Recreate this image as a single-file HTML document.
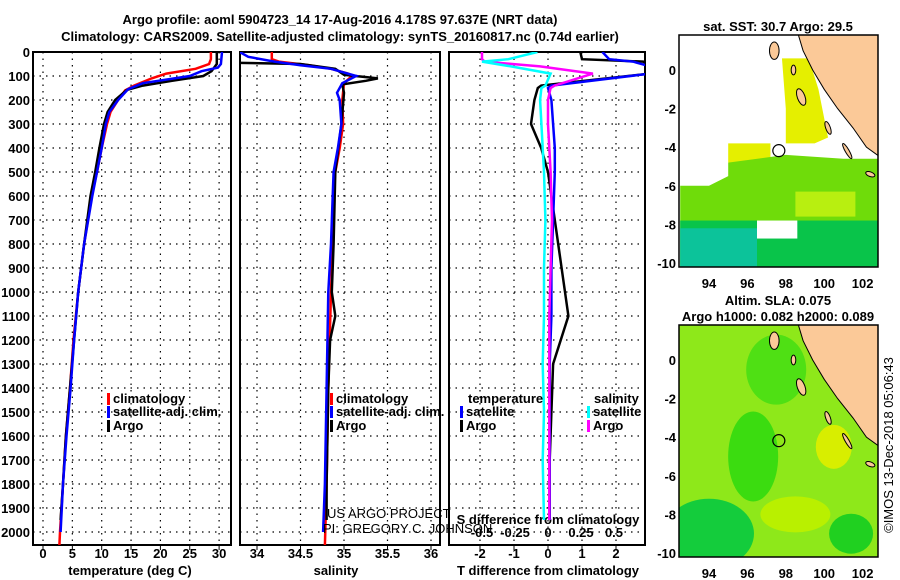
<!DOCTYPE html>
<html><head><meta charset="utf-8"><style>
body{margin:0;background:#fff}
svg{display:block;font-family:"Liberation Sans",sans-serif}
text{font-weight:bold;font-size:13px;fill:#000}
</style></head><body>
<svg id="c" width="900" height="580" viewBox="0 0 900 580">
<text x="340" y="24" text-anchor="middle" font-size="14">Argo profile: aoml 5904723_14 17-Aug-2016 4.178S 97.637E (NRT data)</text>
<text x="340" y="41" text-anchor="middle" font-size="14">Climatology: CARS2009. Satellite-adjusted climatology: synTS_20160817.nc (0.74d earlier)</text>
<g id="g"></g>
</svg>
<script>
const NS="http://www.w3.org/2000/svg";
const G=document.getElementById('g');
function el(t,a,p){const e=document.createElementNS(NS,t);for(const k in a)e.setAttribute(k,a[k]);(p||G).appendChild(e);return e;}
// ---- data ----
const tDepthClim=[0,30,50,70,90,110,140,160,200,250,300,400,500,600,800,1000,1200,1400,1600,1800,2000,2055];
const tClim=[28.6,28.6,28.3,26,21,18.5,15.5,14,12.8,11.5,10.9,10,9.2,8.3,7,6,5.2,4.6,3.9,3.4,2.9,2.8];
const tDepthSat=[0,50,65,80,100,130,155,200,250,300,400,500,600,800,1000,1200,1400,1600,1800,1950,2000];
const tSat=[30.5,30.3,29.8,27,25,17,14.5,12.8,11.3,10.7,10,9.2,8.4,7,6,5.3,4.7,4.0,3.4,3.1,3.0];
const tDepthArgo=[0,50,80,100,120,140,158,200,250,300,400,500,600,800,1000,1200,1400,1600,1800,1950];
const tArgo=[29.6,29.6,28.7,27.3,22,17,14.3,12.3,11,10.4,9.6,8.9,8.1,7,6,5.3,4.6,3.9,3.4,3.0];
const sDepthClim=[0,30,40,55,70,90,100,130,200,300,400,500,600,800,1000,1400,1800,2055];
const sClim=[34.17,34.17,34.25,34.6,34.85,35.05,35.09,35.0,34.98,34.99,34.95,34.9,34.88,34.87,34.85,34.82,34.8,34.78];
const sDepthSat=[0,20,40,55,70,100,130,170,200,300,400,500,600,800,1000,1400,1800,2000];
const sSat=[33.8,33.9,34.2,34.5,34.85,35.14,34.98,34.92,34.95,34.97,34.93,34.88,34.87,34.85,34.82,34.8,34.78,34.76];
const sDepthArgo=[0,45,50,70,95,110,120,135,170,300,500,800,1000,1100,1200,1400,1800,1950];
const sArgo=[33.75,33.75,34.5,34.9,35.0,35.39,35.25,34.98,35.0,34.97,34.9,34.88,34.86,34.9,34.84,34.82,34.8,34.8];
const dDepth=[0,30,40,60,90,140,150,200,300,400,500,700,900,1100,1300,1500,1700,1950];
const dTArgo=[0.95,1.0,2.8,3,3,-0.2,-0.3,-0.4,-0.5,-0.2,0,0.2,0.4,0.6,0.15,0.1,0.05,0.05];
const dTSat=[1.6,1.8,2.5,3,3,0.1,0.0,0.1,0.15,0.2,0.2,0.15,0.1,0.1,0.05,0.05,0.05,0.05];
const dSSat=[-0.08,-0.3,-0.5,-0.28,0.02,-0.02,-0.05,-0.06,-0.05,-0.04,-0.03,-0.02,-0.03,-0.03,-0.04,-0.03,-0.04,-0.03];
const dSArgo=[-0.5,-0.5,-0.48,-0.06,0.34,0.05,0.02,0.0,0.0,0.01,0.02,0.03,0.02,0.01,0.01,0.01,0.01,0.01];
const depthTicks=[0,100,200,300,400,500,600,700,800,900,1000,1100,1200,1300,1400,1500,1600,1700,1800,1900,2000];
const tTicks=[0,5,10,15,20,25,30];
const sTicks=[34,34.5,35,35.5,36];
const dTTicks=[-2,-1,0,1,2];
const dSTicks=["-0.5","-0.25","0","0.25","0.5"];
const lonTicks=[94,96,98,100,102];
const latTicks=[0,-2,-4,-6,-8,-10];
// ---- axes ----
const Y=d=>52+d*0.24, TOP=52, BOT=545;
const xT=v=>43+v*5.87, xS=v=>257+(v-34)*87, xD=v=>548+v*34, xDS=v=>548+v*132;
const panels=[{l:33,r:231,n:'temperature'},{l:240,r:440,n:'salinity'},{l:449,r:645,n:'difference'}];
function dotted(x1,y1,x2,y2,name){const e=el('line',{x1,y1,x2,y2,stroke:'#000','stroke-width':1.2,'stroke-dasharray':'1.5 5'});}
panels.forEach((p,i)=>{
 depthTicks.forEach(d=>dotted(p.l,Y(d),p.r,Y(d),'grid-h'));
 const xs=i==0?tTicks.map(xT):i==1?sTicks.map(xS):dTTicks.map(xD);
 xs.forEach(x=>{dotted(x,TOP,x,BOT,'grid-v');const t=el('line',{x1:x,y1:BOT,x2:x,y2:BOT+5,stroke:'#000'});});
 const r=el('rect',{x:p.l,y:TOP,width:p.r-p.l,height:BOT-TOP,fill:'none',stroke:'#000','stroke-width':2});
 
});
depthTicks.forEach(d=>{const t=el('text',{x:30,y:Y(d)+5,'text-anchor':'end'});t.textContent=d;});
function lbl(arr,f,y,name,fs){arr.forEach(v=>{const t=el('text',{x:f(+v),y:y,'text-anchor':'middle'});if(fs)t.setAttribute('font-size',fs);t.textContent=v;});}
lbl(tTicks,xT,558,'temperature-tick-label');lbl(sTicks,xS,558,'salinity-tick-label');lbl(dTTicks,xD,558,'t-diff-tick-label');lbl(dSTicks,xDS,537,'s-diff-tick-label');
function txt(x,y,s,name,a,extra){const t=el('text',Object.assign({x,y,'text-anchor':a||'start'},extra||{}));t.textContent=s;return t;}
txt(130,575,'temperature (deg C)','x-axis-title-temperature','middle');
txt(336,575,'salinity','x-axis-title-salinity','middle');
txt(548,575,'T difference from climatology','x-axis-title-t-diff','middle');
txt(548,524,'S difference from climatology','x-axis-title-s-diff','middle');
// ---- lines ----
function clipFor(i){const cp=el('clipPath',{id:'cp'+i});el('rect',{x:panels[i].l,y:TOP,width:panels[i].r-panels[i].l,height:BOT-TOP},cp);return 'url(#cp'+i+')';}
const clips=[0,1,2].map(clipFor);
function line(ds,vs,f,col,ci,name){const pts=ds.map((d,k)=>f(vs[k]).toFixed(1)+','+Y(d).toFixed(1)).join(' ');const e=el('polyline',{points:pts,fill:'none',stroke:col,'stroke-width':2.5,'clip-path':clips[ci]});}
line(tDepthClim,tClim,xT,'#f00',0,'temp-climatology-line');
line(tDepthArgo,tArgo,xT,'#000',0,'temp-argo-line');
line(tDepthSat,tSat,xT,'#00f',0,'temp-satellite-line');
line(sDepthClim,sClim,xS,'#f00',1,'sal-climatology-line');
line(sDepthArgo,sArgo,xS,'#000',1,'sal-argo-line');
line(sDepthSat,sSat,xS,'#00f',1,'sal-satellite-line');
line(dDepth,dTArgo,xD,'#000',2,'tdiff-argo-line');
line(dDepth,dTSat,xD,'#00f',2,'tdiff-satellite-line');
line(dDepth,dSArgo,xDS,'#f0f',2,'sdiff-argo-line');
line(dDepth,dSSat,xDS,'#0ff',2,'sdiff-satellite-line');
// ---- legends ----
function leg(x,y,col,s,name){const r=el('rect',{x:x,y:y-10,width:3,height:12,fill:col});txt(x+6,y,s,name);}
leg(107,403,'#f00','climatology','legend-temp-climatology');leg(107,416,'#00f','satellite-adj. clim.','legend-temp-satellite');leg(107,430,'#000','Argo','legend-temp-argo');
leg(330,403,'#f00','climatology','legend-sal-climatology');leg(330,416,'#00f','satellite-adj. clim.','legend-sal-satellite');leg(330,430,'#000','Argo','legend-sal-argo');
txt(468,403,'temperature','legend-temperature-header');leg(460,416,'#00f','satellite','legend-tdiff-satellite');leg(460,430,'#000','Argo','legend-tdiff-argo');
txt(594,403,'salinity','legend-salinity-header');leg(587,416,'#0ff','satellite','legend-sdiff-satellite');leg(587,430,'#f0f','Argo','legend-sdiff-argo');
txt(327,518,'US ARGO PROJECT','credit-project','start',{'font-size':'12'}).style.fontWeight='normal';
txt(323,533,'PI: GREGORY C. JOHNSON','credit-pi','start',{'font-size':'12'}).style.fontWeight='normal';
// ---- maps ----
const mX=l=>709+(l-94)*19.2;
function map(top,lat0,name,bg,title){
 const mY=a=>lat0-a*19.3;
 const g=el('g',{});
 const cid='mc'+top;const cp=el('clipPath',{id:cid});el('rect',{x:679,y:top,width:199,height:232},cp);
 const inner=el('g',{'clip-path':'url(#'+cid+')'},g);
 bg(inner,mY);
 const land=[[98.6,2],[98.9,1.0],[99.4,0],[100,-1],[100.7,-2],[101.5,-3],[102.2,-4],[102.9,-4.5],[102.9,2]];
 const lp=el('polygon',{points:land.map(p=>mX(p[0])+','+mY(p[1])).join(' '),fill:'#fbc998',stroke:'#000','stroke-width':1},inner);
 
 [[97.4,1.0,0.25,0.45,0],[98.8,-1.4,0.2,0.45,-20],[98.4,0.0,0.12,0.25,0],[100.2,-3.0,0.12,0.35,-20],[101.2,-4.2,0.1,0.45,-30],[102.4,-5.4,0.25,0.12,20]].forEach(s=>{const e=el('ellipse',{cx:mX(s[0]),cy:mY(s[1]),rx:s[2]*19.2,ry:s[3]*19.3,fill:'#fbc998',stroke:'#000',transform:'rotate('+s[4]+' '+mX(s[0])+' '+mY(s[1])+')'},inner);});
 const c=el('circle',{cx:mX(97.637),cy:mY(-4.178),r:6,fill:'none',stroke:'#000','stroke-width':1.2},g);
 const fr=el('rect',{x:679,y:top,width:199,height:232,fill:'none',stroke:'#000','stroke-width':1.5},g);
 lonTicks.forEach(l=>{const t=txt(mX(l),top+253,l,'lon-tick-label','middle');g.appendChild(t);});
 latTicks.forEach(a=>{const t=txt(676,mY(a)+5,a,'lat-tick-label','end');g.appendChild(t);});
 title.forEach((s,k)=>{const t=txt(778,top-(title.length-k)*16+12,s,name+'-title','middle');g.appendChild(t);});
}
map(35,70,'sst-map',(g,mY)=>{
 el('rect',{x:679,y:35,width:199,height:232,fill:'#fff'},g);
 el('polygon',{points:[[97.8,0.6],[99.2,0.6],[99.7,-1],[100.2,-3.5],[99.5,-3.8],[97.2,-3.8],[97.2,-4.8],[95,-4.8],[95,-3.8],[98,-3.8],[98,-2]].map(p=>mX(p[0])+','+mY(p[1])).join(' '),fill:'#e5ef00'},g);
 el('polygon',{points:[[95,-4.8],[98,-4.4],[101,-4.6],[102.8,-4.6],[102.8,-11],[92.5,-11],[92.5,-6],[94,-6],[95,-5.5]].map(p=>mX(p[0])+','+mY(p[1])).join(' '),fill:'#6fdc0a'},g);
 el('rect',{x:mX(92.5),y:mY(-7.8),width:200,height:60,fill:'#09c44a'},g);
 el('rect',{x:mX(92.5),y:mY(-8.2),width:mX(96.5)-mX(92.5),height:50,fill:'#0cc39a'},g);
 el('rect',{x:mX(98.5),y:mY(-6.3),width:60,height:25,fill:'#b8ef10'},g);
 el('rect',{x:mX(96.5),y:mY(-7.8),width:mX(98.6)-mX(96.5),height:18,fill:'#ffffff'},g);
},['sat. SST: 30.7 Argo: 29.5']);
map(325,360,'sla-map',(g,mY)=>{
 el('rect',{x:679,y:325,width:199,height:232,fill:'#8ee81a'},g);
 el('ellipse',{cx:mX(96.3),cy:mY(-5),rx:25,ry:45,fill:'#3bdc10'},g);
 el('ellipse',{cx:mX(94),cy:mY(-9),rx:45,ry:35,fill:'#14cc3c'},g);
 el('ellipse',{cx:mX(101.4),cy:mY(-9),rx:22,ry:20,fill:'#20d020'},g);
 el('ellipse',{cx:mX(100.5),cy:mY(-4.5),rx:18,ry:22,fill:'#d8ee00'},g);
 el('ellipse',{cx:mX(98.5),cy:mY(-8),rx:35,ry:18,fill:'#b9f000'},g);
 el('ellipse',{cx:mX(97.5),cy:mY(-0.5),rx:30,ry:35,fill:'#4fe014'},g);
},['Altim. SLA: 0.075','Argo h1000: 0.082 h2000: 0.089']);
const cr=txt(0,0,'©IMOS 13-Dec-2018 05:06:43','timestamp-credit','middle');cr.setAttribute('transform','translate(893,445) rotate(-90)');cr.style.fontWeight='normal';cr.setAttribute('font-size','12');
</script>
</body></html>
